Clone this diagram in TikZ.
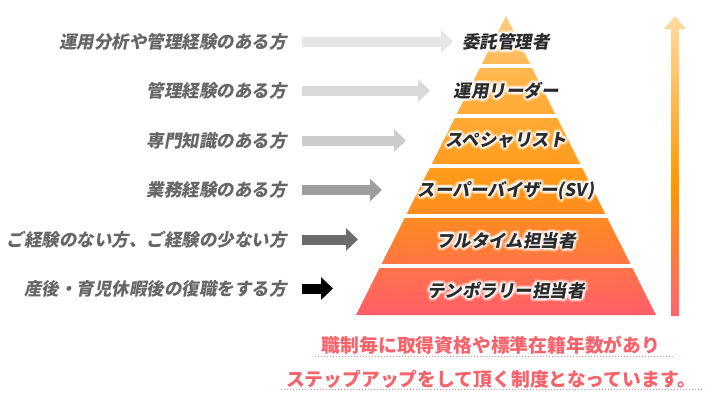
\documentclass[tikz,border=0pt]{standalone}
\usepackage{fontspec}
\setmainfont{Noto Sans CJK JP}
\newfontfamily\jpit{Noto Sans CJK JP}[FakeSlant=0.18]
\usetikzlibrary{arrows.meta,calc}
\definecolor{pA}{HTML}{FF5E6A}
\definecolor{pB}{HTML}{FF7348}
\definecolor{pC}{HTML}{FF8130}
\definecolor{pD}{HTML}{FF9515}
\definecolor{pE}{HTML}{FFA42A}
\definecolor{pF}{HTML}{FFB040}
\definecolor{pG}{HTML}{FFCB80}
\definecolor{uA}{HTML}{FF6471}
\definecolor{uB}{HTML}{FF9900}
\definecolor{uC}{HTML}{FFDBA3}
\definecolor{pinktxt}{HTML}{F7636B}
\definecolor{dotcol}{HTML}{F39090}
\definecolor{lefttxt}{HTML}{666666}
\definecolor{bandink}{HTML}{2B2B2B}
\definecolor{arA}{HTML}{E6E6E6}
\definecolor{arB}{HTML}{D9D9D9}
\definecolor{arC}{HTML}{CCCCCC}
\definecolor{arD}{HTML}{9E9E9E}
\definecolor{arE}{HTML}{6C6C6C}
\definecolor{arF}{HTML}{000000}
\pgfdeclareverticalshading{pyrshade}{100bp}{color(0bp)=(pA); color(25bp)=(pA); color(32.9bp)=(pB); color(37.5bp)=(pC); color(45.9bp)=(pD); color(54.3bp)=(pE); color(62.6bp)=(pF); color(75bp)=(pG); color(100bp)=(pG)}
\pgfdeclareverticalshading{upshade}{100bp}{color(0bp)=(uA); color(25bp)=(uA); color(47bp)=(uB); color(75bp)=(uC); color(100bp)=(uC)}
\tikzset{
  lefttext/.style={anchor=east,inner sep=0pt,text=lefttxt,font=\fontsize{17.5}{20}\selectfont\jpit\bfseries},
  bandtxt/.style={inner sep=0pt,text=bandink,font=\fontsize{17.5}{20}\selectfont\jpit\bfseries},
  bottomtxt/.style={inner sep=0pt,text=pinktxt,font=\fontsize{18.8}{22}\selectfont\bfseries},
  grayarrow/.style={line width=10pt,-{Triangle[width=22pt,length=12pt]}},
  dotline/.style={dotcol,line width=1pt,dash pattern=on 1pt off 2pt},
}
\newcommand\glowlabel[3]{%
  \foreach \ang in {0,45,...,315}{%
    \node[bandtxt,text=white,opacity=.35] at ($(#2)+(\ang+22.5:3.4pt)$) {#3};
    \node[bandtxt,text=white,opacity=.5] at ($(#2)+(\ang:1.8pt)$) {#3};}
  \node[bandtxt] (#1) at (#2) {#3};}
\begin{document}
\begin{tikzpicture}[x=1pt,y=-1pt]
\useasboundingbox (0,0) rectangle (720,400);
\fill[white] (0,0) rectangle (720,400);
% pyramid
\shade[shading=pyrshade] (506,16) -- (656,315) -- (356,315) -- cycle;
\foreach \k in {0,...,4}{
  \fill[white] (340,63.5+50*\k) rectangle (664,67.5+50*\k);
}
% upward arrow
\shade[shading=upshade] (671,316) -- (671,29) -- (664,29) -- (675,16) -- (686,29) -- (679,29) -- (679,316) -- cycle;
% band labels
\coordinate (b1) at (506,42);
\coordinate (b2) at (506,90.5);
\coordinate (b3) at (506,140.5);
\coordinate (b4) at (506,190.5);
\coordinate (b5) at (506,240.5);
\coordinate (b6) at (506,290.5);
\glowlabel{t1}{b1}{委託管理者}
\glowlabel{t2}{b2}{運用リーダー}
\glowlabel{t3}{b3}{スペシャリスト}
\glowlabel{t4}{b4}{スーパーバイザー(SV)}
\glowlabel{t5}{b5}{フルタイム担当者}
\glowlabel{t6}{b6}{テンポラリー担当者}
% left labels
\node[lefttext] (l1) at (287,41.5) {運用分析や管理経験のある方};
\node[lefttext] (l2) at (287,91) {管理経験のある方};
\node[lefttext] (l3) at (287,141) {専門知識のある方};
\node[lefttext] (l4) at (287,190) {業務経験のある方};
\node[lefttext] (l5) at (287,240) {ご経験のない方、ご経験の少ない方};
\node[lefttext] (l6) at (287,289) {産後・育児休暇後の復職をする方};
% arrows
\coordinate (s1) at (302,41.5); \coordinate (e1) at (453,41.5);
\coordinate (s2) at (302,90.5); \coordinate (e2) at (430,90.5);
\coordinate (s3) at (302,140.5); \coordinate (e3) at (406,140.5);
\coordinate (s4) at (302,190); \coordinate (e4) at (382,190);
\coordinate (s5) at (302,239.5); \coordinate (e5) at (358,239.5);
\coordinate (s6) at (302,288.5); \coordinate (e6) at (333,288.5);
\draw[grayarrow,arA] (s1) -- (e1);
\draw[grayarrow,arB] (s2) -- (e2);
\draw[grayarrow,arC] (s3) -- (e3);
\draw[grayarrow,arD] (s4) -- (e4);
\draw[grayarrow,arE] (s5) -- (e5);
\draw[grayarrow,arF] (s6) -- (e6);
% bottom text
\node[bottomtxt] (m1) at (491,345) {職制毎に取得資格や標準在籍年数があり};
\node[bottomtxt] (m2) at (491,379.5) {ステップアップをして頂く制度となっています。};
\coordinate (d1a) at (315,356.5); \coordinate (d1b) at (673,356.5);
\coordinate (d2a) at (281,389.5); \coordinate (d2b) at (703,389.5);
\draw[dotline] (d1a) -- (d1b);
\draw[dotline] (d2a) -- (d2b);
\end{tikzpicture}
\end{document}
